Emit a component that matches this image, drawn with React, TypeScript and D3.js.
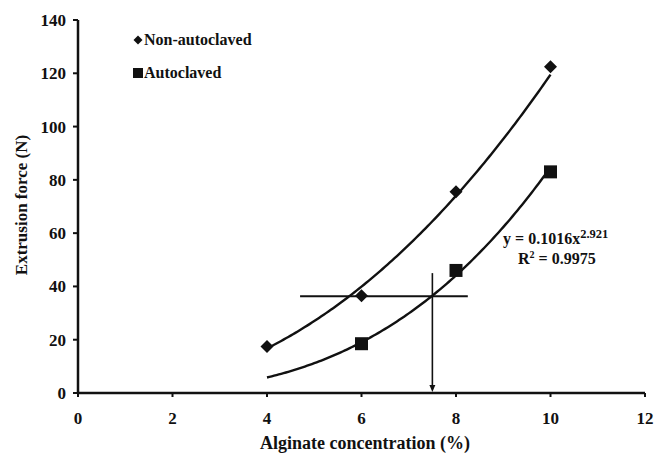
import React from "react";
import * as d3 from "d3";

const concentrations = [4, 6, 8, 10];
const nonAutoclaved = [17.5, 36.5, 75.5, 122.5];
const autoclavedX = [6, 8, 10];
const autoclaved = [18.5, 46, 83];
const fitA = 0.1016;
const fitB = 2.921;
const rSquared = "0.9975";
const xTicks = [0, 2, 4, 6, 8, 10, 12];
const yTicks = [0, 20, 40, 60, 80, 100, 120, 140];
const crossY = 36.3;
const crossX = 7.5;
const crossXRange = [4.7, 8.25];
const crossYTop = 45;

function powerFit(xs: number[], ys: number[]) {
  const lx = xs.map(Math.log);
  const ly = ys.map(Math.log);
  const mx = d3.mean(lx)!;
  const my = d3.mean(ly)!;
  let sxy = 0, sxx = 0;
  lx.forEach((v, i) => {
    sxy += (v - mx) * (ly[i] - my);
    sxx += (v - mx) * (v - mx);
  });
  const b = sxy / sxx;
  const a = Math.exp(my - b * mx);
  return { a, b };
}

const diamondPath = (r: number) => `M0,${-r}L${r},0L0,${r}L${-r},0Z`;

export default function App() {
  const W = 665, H = 456;
  const x = d3.scaleLinear().domain([0, 12]).range([78, 645]);
  const y = d3.scaleLinear().domain([0, 140]).range([393, 20]);
  const font = "'Liberation Serif', 'Times New Roman', serif";

  const nf = powerFit(concentrations, nonAutoclaved);
  const samples = d3.range(4, 10.0001, 0.05);
  const line = d3.line<[number, number]>().x(d => x(d[0])).y(d => y(d[1]));
  const nonCurve = line(samples.map(v => [v, nf.a * Math.pow(v, nf.b)] as [number, number]));
  const autoCurve = line(samples.map(v => [v, fitA * Math.pow(v, fitB)] as [number, number]));

  return (
    <svg width={W} height={H} style={{ position: "absolute", left: 0, top: 0 }} fontFamily={font}>
      <rect width={W} height={H} fill="#fff" />
      {/* axes */}
      <line x1={x(0)} x2={x(12)} y1={y(0)} y2={y(0)} stroke="#111" strokeWidth={2.5} />
      <line x1={x(0)} x2={x(0)} y1={y(0)} y2={y(140)} stroke="#111" strokeWidth={2.5} />
      {xTicks.map(t => (
        <g key={"x" + t}>
          <line x1={x(t)} x2={x(t)} y1={y(0)} y2={y(0) + 4} stroke="#111" strokeWidth={2} />
          <text x={x(t)} y={y(0) + 31} textAnchor="middle" fontSize={17} fontWeight="bold" fill="#111">{t}</text>
        </g>
      ))}
      {yTicks.map(t => (
        <g key={"y" + t}>
          <line x1={x(0) - 5} x2={x(0)} y1={y(t)} y2={y(t)} stroke="#111" strokeWidth={2} />
          <text x={x(0) - 12} y={y(t) + 6} textAnchor="end" fontSize={17} fontWeight="bold" fill="#111">{t}</text>
        </g>
      ))}
      <text x={365} y={449} textAnchor="middle" fontSize={18} fontWeight="bold" fill="#111">Alginate concentration (%)</text>
      <text transform={`translate(27,${205}) rotate(-90)`} textAnchor="middle" fontSize={17} fontWeight="bold" fill="#111">Extrusion force (N)</text>

      {/* fit curves */}
      <path d={nonCurve!} fill="none" stroke="#111" strokeWidth={2.4} />
      <path d={autoCurve!} fill="none" stroke="#111" strokeWidth={2.4} />

      {/* crosshair */}
      <line x1={x(crossXRange[0])} x2={x(crossXRange[1])} y1={y(crossY)} y2={y(crossY)} stroke="#111" strokeWidth={2} />
      <line x1={x(crossX)} x2={x(crossX)} y1={y(crossYTop)} y2={y(0) - 6} stroke="#111" strokeWidth={1.6} />
      <path d={`M${x(crossX) - 3},${y(0) - 8} L${x(crossX) + 3},${y(0) - 8} L${x(crossX)},${y(0) - 1} Z`} fill="#111" />

      {/* markers */}
      {concentrations.map((c, i) => (
        <path key={"n" + i} d={diamondPath(6.5)} transform={`translate(${x(c)},${y(nonAutoclaved[i])})`} fill="#111" />
      ))}
      {autoclavedX.map((c, i) => (
        <rect key={"a" + i} x={x(c) - 6.5} y={y(autoclaved[i]) - 6.5} width={13} height={13} fill="#111" />
      ))}

      {/* legend */}
      <path d={diamondPath(4.5)} transform="translate(138,40)" fill="#111" />
      <text x={144} y={45} fontSize={16} fontWeight="bold" fill="#111">Non-autoclaved</text>
      <rect x={133} y={68} width={10} height={10} fill="#111" />
      <text x={144} y={78} fontSize={16} fontWeight="bold" fill="#111">Autoclaved</text>

      {/* equation */}
      <text x={503} y={244} fontSize={16} fontWeight="bold" fill="#111">
        y = {fitA}x<tspan fontSize={12.5} dy={-6}>{fitB}</tspan>
      </text>
      <text x={518} y={264} fontSize={16} fontWeight="bold" fill="#111">
        R<tspan fontSize={10} dy={-6}>2</tspan><tspan dy={6}> = {rSquared}</tspan>
      </text>
    </svg>
  );
}
